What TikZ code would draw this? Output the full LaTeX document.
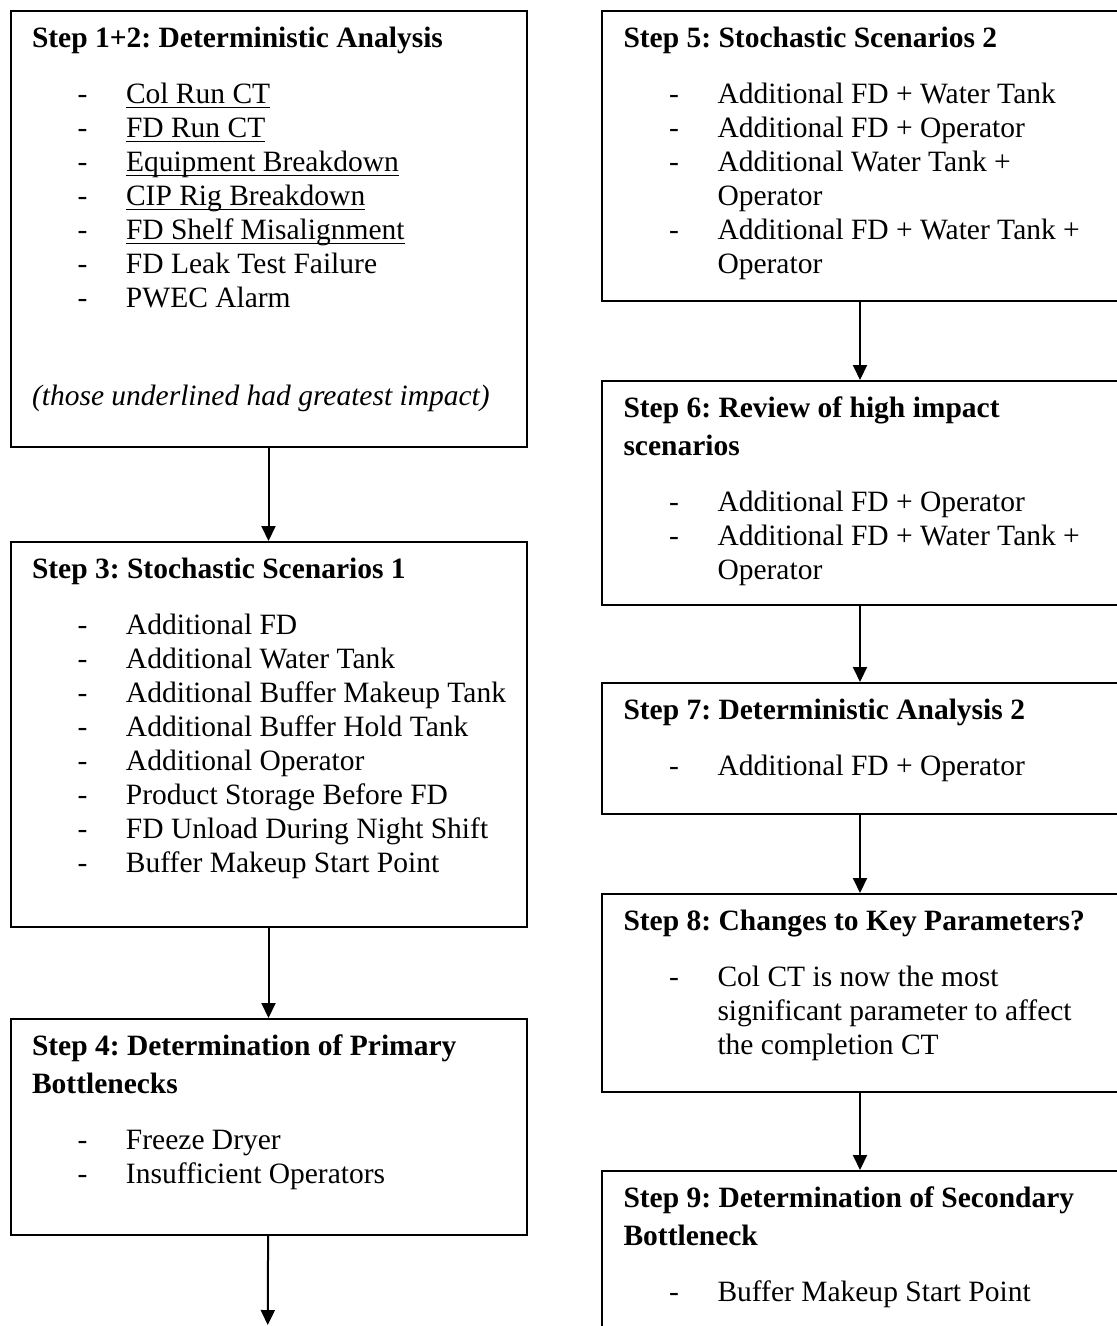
\documentclass[tikz,border=0pt]{standalone}
\usepackage{fontspec}
\setmainfont{Liberation Serif}
\usetikzlibrary{arrows.meta,positioning}
\frenchspacing
\newsavebox{\stepulbox}
\newcommand{\stepul}[1]{\sbox{\stepulbox}{#1}\rlap{\rule[-1.9pt]{\wd\stepulbox}{0.6pt}}\usebox{\stepulbox}}
\newcommand{\stepdash}{\makebox[37.6pt][l]{\hspace*{18.2pt}-}}
\newcommand{\stepcont}{\hspace*{37.6pt}}
\newcommand{\steptitle}[1]{\rule{0pt}{9.6pt}\textbf{#1}}

\begin{document}
\begin{tikzpicture}[x=0.4pt,y=-0.4pt]
\tikzstyle{stepbox}=[draw=black,line width=0.8pt,anchor=north west,minimum width=206.4pt,inner sep=0pt]
\tikzstyle{steptext}=[align=left,inner sep=0pt,font=\fontsize{11.8}{13.6}\selectfont]
\tikzstyle{flow}=[-{Triangle[length=6pt,width=5.6pt]},line width=0.8pt]

\useasboundingbox (0,0) rectangle (1116,1326);

% left column
\node[stepbox,minimum height=174.4pt] (b1) at (9.5,10) {};
\node[stepbox,minimum height=154pt] (b3) at (9.5,541) {};
\node[stepbox,minimum height=86.4pt] (b4) at (9.5,1018) {};
\coordinate (end4) at (267.75,1325);

\node[steptext,below right=5.2pt and 8.8pt of b1.north west] (t1) {\steptitle{Step 1+2: Deterministic Analysis}\\[8.8pt]
\stepdash\stepul{Col Run CT}\\
\stepdash\stepul{FD Run CT}\\
\stepdash\stepul{Equipment Breakdown}\\
\stepdash\stepul{CIP Rig Breakdown}\\
\stepdash\stepul{FD Shelf Misalignment}\\
\stepdash FD Leak Test Failure\\
\stepdash PWEC Alarm\\[25.6pt]
\textit{(those underlined had greatest impact)}};

\node[steptext,below right=5.2pt and 8.8pt of b3.north west] (t3) {\steptitle{Step 3: Stochastic Scenarios 1}\\[8.8pt]
\stepdash Additional FD\\
\stepdash Additional Water Tank\\
\stepdash Additional Buffer Makeup Tank\\
\stepdash Additional Buffer Hold Tank\\
\stepdash Additional Operator\\
\stepdash Product Storage Before FD\\
\stepdash FD Unload During Night Shift\\
\stepdash Buffer Makeup Start Point};

\node[steptext,below right=5.2pt and 8.8pt of b4.north west] (t4) {\steptitle{Step 4: Determination of Primary}\\[1.6pt]
\textbf{Bottlenecks}\\[8.8pt]
\stepdash Freeze Dryer\\
\stepdash Insufficient Operators};

\draw[flow] (b1) -- (b3);
\draw[flow] (b3) -- (b4);
\draw[flow] (b4) -- (end4);

% right column
\node[stepbox,minimum height=116pt] (b5) at (601,10) {};
\node[stepbox,minimum height=89.6pt] (b6) at (601,380) {};
\node[stepbox,minimum height=52.4pt] (b7) at (601,682) {};
\node[stepbox,minimum height=79.2pt] (b8) at (601,893) {};
\node[stepbox,minimum height=70pt] (b9) at (601,1170) {};

\node[steptext,below right=5.2pt and 8.8pt of b5.north west] (t5) {\steptitle{Step 5: Stochastic Scenarios 2}\\[8.8pt]
\stepdash Additional FD + Water Tank\\
\stepdash Additional FD + Operator\\
\stepdash Additional Water Tank +\\
\stepcont Operator\\
\stepdash Additional FD + Water Tank +\\
\stepcont Operator};

\node[steptext,below right=5.2pt and 8.8pt of b6.north west] (t6) {\steptitle{Step 6: Review of high impact}\\[1.6pt]
\textbf{scenarios}\\[8.8pt]
\stepdash Additional FD + Operator\\
\stepdash Additional FD + Water Tank +\\
\stepcont Operator};

\node[steptext,below right=5.2pt and 8.8pt of b7.north west] (t7) {\steptitle{Step 7: Deterministic Analysis 2}\\[8.8pt]
\stepdash Additional FD + Operator};

\node[steptext,below right=5.2pt and 8.8pt of b8.north west] (t8) {\steptitle{Step 8: Changes to Key Parameters?}\\[8.8pt]
\stepdash Col CT is now the most\\
\stepcont significant parameter to affect\\
\stepcont the completion CT};

\node[steptext,below right=5.2pt and 8.8pt of b9.north west] (t9) {\steptitle{Step 9: Determination of Secondary}\\[1.6pt]
\textbf{Bottleneck}\\[8.8pt]
\stepdash Buffer Makeup Start Point};

\draw[flow] (b5) -- (b6);
\draw[flow] (b6) -- (b7);
\draw[flow] (b7) -- (b8);
\draw[flow] (b8) -- (b9);
\end{tikzpicture}
\end{document}
